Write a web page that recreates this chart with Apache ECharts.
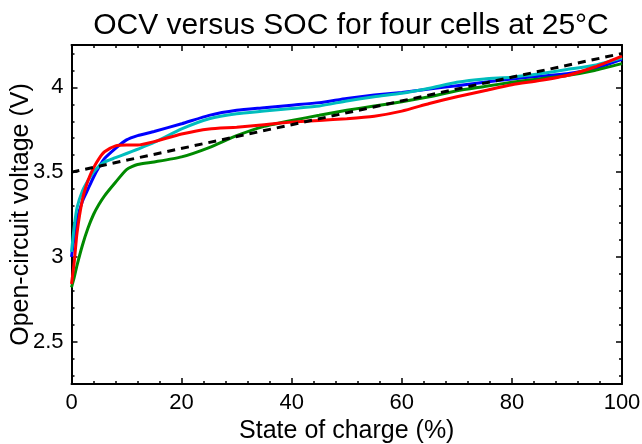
<!DOCTYPE html>
<html lang="en">
<head>
    <meta charset="UTF-8">
    <title>OCV versus SOC</title>
    <script src="https://cdn.jsdelivr.net/npm/echarts@6/dist/echarts.min.js"></script>
    <style>
        html, body { margin: 0; padding: 0; background: #fff; }
        #chart { width: 642px; height: 444px; }
    </style>
</head>
<body>
<div id="chart"></div>
<script type="text/javascript">

// state of charge (%) sample points shared by the four cells
var soc = [0, 0.5, 1, 2, 3, 4, 5, 6, 8, 10, 12, 15, 20, 25, 30, 35, 40, 45, 50, 55, 60, 65, 70, 75, 80, 85, 90, 95, 100];

// open-circuit voltage (V)
var cellBlue  = [3.00, 3.12, 3.22, 3.33, 3.40, 3.47, 3.53, 3.58, 3.64, 3.69, 3.715, 3.74, 3.785, 3.835, 3.865, 3.88, 3.895, 3.91, 3.935, 3.955, 3.97, 3.99, 4.01, 4.03, 4.05, 4.065, 4.08, 4.11, 4.165];
var cellRed   = [2.84, 2.97, 3.14, 3.34, 3.45, 3.525, 3.58, 3.62, 3.655, 3.66, 3.66, 3.68, 3.725, 3.755, 3.765, 3.78, 3.795, 3.805, 3.815, 3.83, 3.86, 3.905, 3.945, 3.98, 4.015, 4.04, 4.07, 4.12, 4.185];
var cellGreen = [2.82, 2.88, 2.95, 3.07, 3.17, 3.25, 3.31, 3.36, 3.44, 3.515, 3.545, 3.56, 3.59, 3.645, 3.715, 3.77, 3.805, 3.835, 3.865, 3.89, 3.915, 3.945, 3.98, 4.005, 4.03, 4.05, 4.07, 4.10, 4.14];
var cellCyan  = [3.03, 3.18, 3.29, 3.39, 3.45, 3.50, 3.535, 3.56, 3.585, 3.61, 3.635, 3.675, 3.755, 3.815, 3.845, 3.86, 3.875, 3.89, 3.92, 3.945, 3.965, 3.995, 4.03, 4.05, 4.06, 4.08, 4.105, 4.13, 4.175];

// straight-line fit (dashed)
var fitSoc = [0, 100];
var fitOcv = [3.5, 4.2];

// tick values
var yMajorTicks = [2.5, 3, 3.5, 4];
var yMinorTicks = [2.3, 2.4, 2.6, 2.7, 2.8, 2.9, 3.1, 3.2, 3.3, 3.4, 3.6, 3.7, 3.8, 3.9, 4.1, 4.2];

function pairs(xs, ys) {
    return xs.map(function (x, i) { return [x, ys[i]]; });
}

var font = '"Liberation Sans", Arial, Helvetica, sans-serif';
var gridBox = { left: 71.5, right: 20, top: 45, bottom: 60, outerBoundsMode: 'none', containLabel: false };

var myChart = echarts.init(document.getElementById('chart'), null, { renderer: 'canvas' });

function xAx(pos, labels) {
    return {
        type: 'value', gridIndex: 0, position: pos,
        min: 0, max: 100, interval: 20,
        name: labels ? 'State of charge (%)' : '',
        nameLocation: 'middle', nameGap: 35, nameMoveOverlap: false,
        nameTextStyle: { fontFamily: font, fontSize: 25, color: '#000' },
        axisLine: { show: true, onZero: false, lineStyle: { color: '#000', width: 2 } },
        axisTick: { show: true, inside: true, length: 6, lineStyle: { color: '#000', width: 1.5 } },
        minorTick: { show: true, splitNumber: 5, length: 3, lineStyle: { color: '#000', width: 1.5 } },
        axisLabel: { show: labels, margin: 8, fontFamily: font, fontSize: 22, color: '#000' },
        splitLine: { show: false }
    };
}

function yAx(grid, pos, ticks, len, labels) {
    return {
        type: 'value', gridIndex: grid, position: pos,
        min: 2.25, max: 4.25,
        name: labels ? 'Open-circuit voltage (V)' : '',
        nameLocation: 'middle', nameGap: 38, nameMoveOverlap: false,
        nameTextStyle: { fontFamily: font, fontSize: 25, color: '#000' },
        axisLine: { show: grid === 0, onZero: false, lineStyle: { color: '#000', width: 2 } },
        axisTick: { show: true, inside: true, length: len, customValues: ticks, lineStyle: { color: '#000', width: 1.5 } },
        axisLabel: {
            show: labels, margin: 8, fontFamily: font, fontSize: 22, color: '#000',
            customValues: yMajorTicks,
            formatter: function (v) { return String(v); }
        },
        splitLine: { show: false }
    };
}

function line(name, data, color, z) {
    return {
        name: name, type: 'line', xAxisIndex: 0, yAxisIndex: 0,
        data: data, showSymbol: false, smooth: 0.2, z: z,
        lineStyle: { color: color, width: 3 }
    };
}

var option = {
    animation: false,
    backgroundColor: '#fff',
    title: {
        text: 'OCV versus SOC for four cells at 25\u00b0C',
        left: 346, top: 6, textAlign: 'center',
        textStyle: { fontFamily: font, fontSize: 30, fontWeight: 'normal', color: '#000' }
    },
    grid: [
        Object.assign({}, gridBox),
        Object.assign({}, gridBox)
    ],
    xAxis: [
        xAx('bottom', true),
        xAx('top', false),
        { type: 'value', gridIndex: 1, min: 0, max: 100, show: false }
    ],
    yAxis: [
        yAx(0, 'left', yMajorTicks, 6, true),
        yAx(0, 'right', yMajorTicks, 6, false),
        yAx(1, 'left', yMinorTicks, 3, false),
        yAx(1, 'right', yMinorTicks, 3, false)
    ],
    series: [
        line('Cell 1', pairs(soc, cellBlue), '#0000ff', 2),
        line('Cell 3', pairs(soc, cellGreen), '#008a00', 3),
        line('Cell 4', pairs(soc, cellCyan), '#00bdbd', 4),
        line('Cell 2', pairs(soc, cellRed), '#ff0000', 5),
        {
            name: 'Fit', type: 'line', xAxisIndex: 0, yAxisIndex: 0,
            data: pairs(fitSoc, fitOcv), showSymbol: false, z: 6,
            lineStyle: { color: '#000', width: 3, type: [8, 6] }
        }
    ]
};
myChart.setOption(option);

</script>
</body>
</html>
